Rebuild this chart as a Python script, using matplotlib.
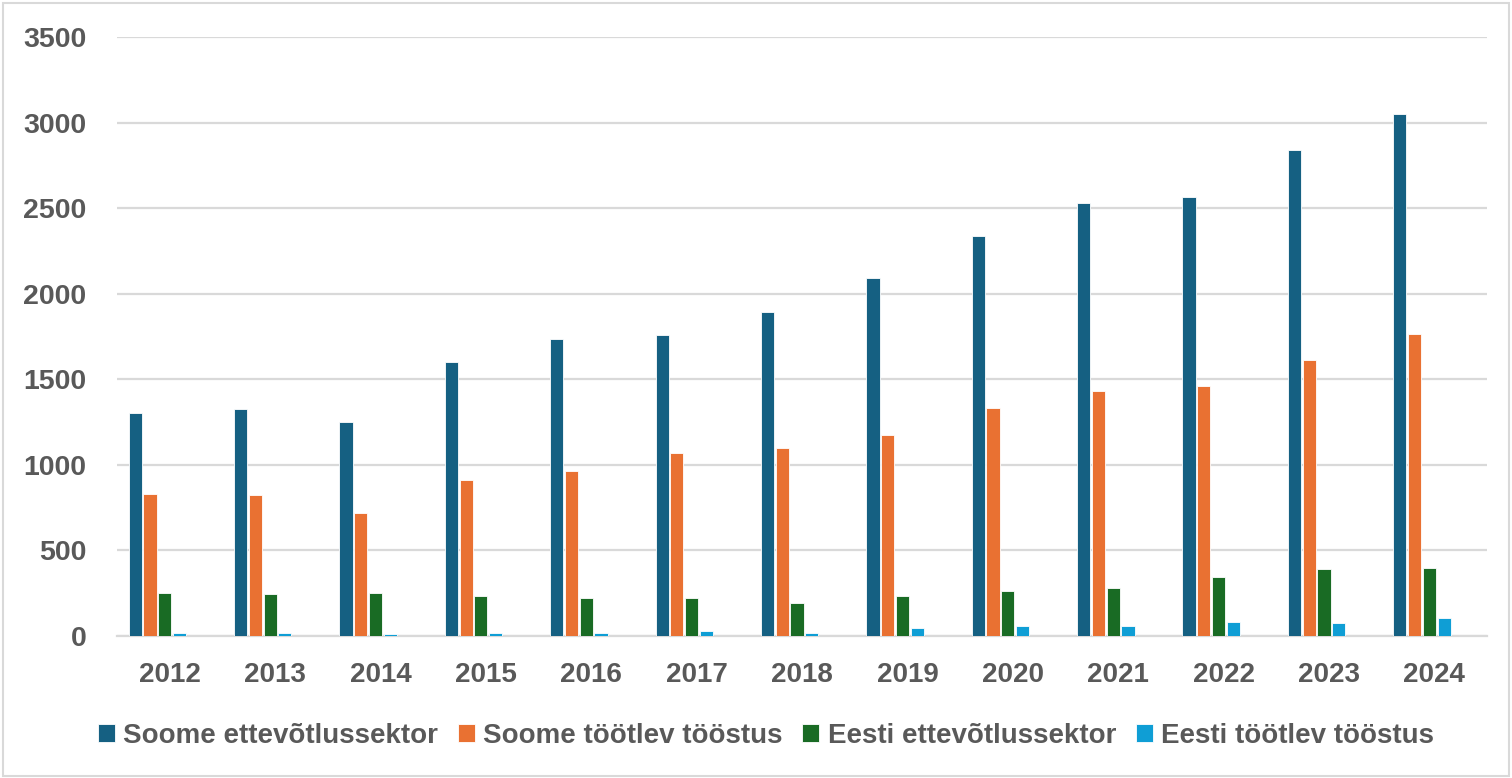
import matplotlib
matplotlib.use("Agg")
import matplotlib.pyplot as plt
import numpy as np
from matplotlib.patches import Rectangle

years = ["2012", "2013", "2014", "2015", "2016", "2017", "2018",
         "2019", "2020", "2021", "2022", "2023", "2024"]
soome_ettevotlus = [1302, 1326, 1250, 1600, 1735, 1758, 1893, 2091, 2336, 2529, 2564, 2839, 3049]
soome_tootlev = [829, 824, 718, 911, 964, 1069, 1098, 1174, 1332, 1431, 1460, 1612, 1764]
eesti_ettevotlus = [251, 245, 251, 234, 222, 222, 193, 234, 263, 280, 345, 391, 397]
eesti_tootlev = [20, 20, 12, 20, 20, 27, 18, 45, 58, 58, 82, 74, 105]

series_names = ["Soome ettevõtlussektor", "Soome töötlev tööstus",
                "Eesti ettevõtlussektor", "Eesti töötlev tööstus"]
series = [soome_ettevotlus, soome_tootlev, eesti_ettevotlus, eesti_tootlev]
colors = ["#156082", "#E97132", "#196B24", "#0F9ED5"]
yticks = [0, 500, 1000, 1500, 2000, 2500, 3000, 3500]

plt.rcParams['font.family'] = ['Liberation Sans', 'DejaVu Sans']
txt = "#595959"

fig = plt.figure(figsize=(15.12, 7.78), dpi=100)
ax = fig.add_axes([117/1512, 1-636/778, (1487-117)/1512, (636-37)/778])

x = np.arange(len(years))
offsets = [-0.327, -0.187, -0.047, 0.093]
width = 0.125
for s, off, c, name in zip(series, offsets, colors, series_names):
    ax.bar(x + off, s, width=width, color=c, edgecolor="white", linewidth=0.6, label=name, zorder=3)

ax.set_xlim(-0.5, len(years) - 0.5)
ax.set_ylim(0, 3500)
ax.set_yticks(yticks)
ax.set_yticklabels([str(v) for v in yticks])
ax.set_xticks(x)
ax.set_xticklabels(years)
ax.grid(axis="y", color="#d9d9d9", linewidth=1.6, zorder=0)
ax.set_axisbelow(True)
for sp in ["top", "right", "left"]:
    ax.spines[sp].set_visible(False)
ax.spines["bottom"].set_color("#d9d9d9")
ax.spines["bottom"].set_linewidth(1.6)
ax.tick_params(axis="both", length=0, labelsize=20.5, labelcolor=txt)
ax.tick_params(axis="x", labelsize=20, pad=19)
ax.tick_params(axis="y", pad=22)
for lab in ax.get_xticklabels() + ax.get_yticklabels():
    lab.set_fontweight("bold")

leg = fig.legend(loc="center", bbox_to_anchor=(766/1512, 1-736/778), ncol=4, frameon=False,
                 prop={"size": 20, "weight": "bold"}, handlelength=0.62, handleheight=0.62,
                 handletextpad=0.3, columnspacing=0.7)
for t in leg.get_texts():
    t.set_color(txt)

fig.patches.append(Rectangle((3/1512, 2/778), 1506/1512, 773/778, transform=fig.transFigure,
                             fill=False, edgecolor="#d9d9d9", linewidth=1.5))

fig.savefig("out.png", dpi=100, facecolor="white")
